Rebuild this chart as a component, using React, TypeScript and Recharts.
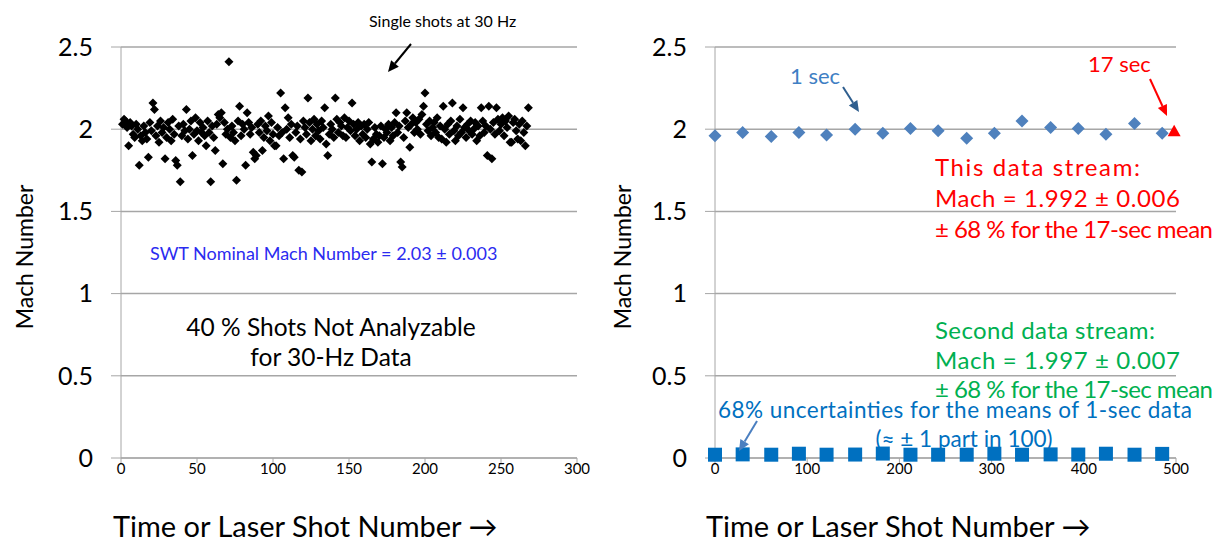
import React from 'react';
import {
  ScatterChart,
  Scatter,
  XAxis,
  YAxis,
  CartesianGrid,
} from 'recharts';

// Left panel: single shots at 30 Hz (Mach number per shot)
const singleShots = [
  2.03, 2.06, 2.05, 2.01, 1.9, 2.04, 2.02, 1.97, 1.95, 2.03,
  2.0, 1.78, 1.96, 1.93, 2.02, 1.98, 1.94, 1.83, 2.04, 1.99,
  2.16, 2.12, 1.96, 2.02, 1.92, 2.05, 1.98, 2.01, 1.82, 1.95,
  2.04, 2.0, 1.93, 2.06, 1.97, 1.81, 1.78, 2.02, 1.68, 1.96,
  2.03, 1.99, 2.12, 1.94, 2.0, 2.05, 1.84, 1.97, 2.07, 1.99,
  1.93, 2.04, 1.98, 2.01, 1.96, 1.9, 2.05, 1.98, 1.68, 2.02,
  1.95, 1.87, 2.03, 2.09, 2.07, 2.1, 1.79, 2.04, 1.97, 2.0,
  2.41, 1.95, 2.02, 1.98, 1.93, 1.69, 2.05, 2.14, 1.96, 2.03,
  2.0, 1.78, 2.1, 2.04, 1.97, 2.01, 1.86, 1.82, 1.84, 2.03,
  1.98, 2.05, 1.87, 1.95, 2.02, 1.99, 2.08, 1.93, 2.04, 1.97,
  1.9, 1.9, 2.01, 1.96, 2.22, 1.98, 1.82, 2.13, 2.0, 2.07,
  1.95, 2.03, 1.84, 1.83, 1.98, 2.02, 1.75, 1.94, 1.74, 2.05,
  2.01, 1.97, 2.19, 2.04, 1.93, 2.0, 2.06, 1.96, 2.03, 1.99,
  1.94, 2.05, 2.01, 2.13, 1.91, 1.84, 1.97, 2.03, 2.0, 1.95,
  2.19, 2.06, 1.98, 2.04, 2.02, 1.96, 2.07, 1.95, 2.01, 2.05,
  1.99, 2.16, 2.03, 1.96, 2.0, 2.04, 1.93, 2.02, 1.97, 2.03,
  1.95, 2.0, 2.04, 1.91, 1.8, 1.94, 2.01, 1.97, 1.92, 1.96,
  2.02, 1.79, 1.95, 2.0, 1.98, 2.03, 1.93, 2.01, 1.96, 2.04,
  2.1, 1.98, 2.02, 1.8, 1.77, 1.95, 2.05, 2.1, 2.01, 1.89,
  2.03, 2.07, 1.98, 2.04, 2.0, 2.06, 1.97, 2.09, 2.14, 2.22,
  2.03, 1.99, 2.05, 1.96, 2.01, 2.04, 1.98, 2.07, 1.95, 2.02,
  1.94, 2.14, 2.0, 1.92, 2.03, 1.97, 2.05, 2.16, 1.99, 1.93,
  2.02, 1.96, 2.06, 1.98, 2.13, 2.01, 1.95, 2.03, 1.99, 2.05,
  1.97, 2.0, 2.04, 1.93, 2.02, 1.96, 2.13, 2.05, 1.98, 2.02,
  1.84, 2.14, 2.0, 1.82, 2.04, 1.97, 2.13, 2.06, 1.99, 2.03,
  2.07, 1.96, 2.05, 2.01, 2.08, 1.92, 1.92, 2.04, 2.06, 1.99,
  1.94, 2.03, 1.93, 2.05, 1.98, 1.9, 2.02, 2.13,
];

// Right panel: 1-sec means, their 68% uncertainties, and the 17-sec mean
const secondShots = [0, 30, 61, 91, 121, 152, 182, 212, 242, 273, 303, 333, 364, 394, 424, 455, 485];
const secondMeans = [
  1.96, 1.98, 1.955, 1.98, 1.965, 2.0, 1.975, 2.005, 1.99, 1.945, 1.975, 2.05, 2.01, 2.005, 1.97, 2.035, 1.975,
];
const secondUnc = [
  0.02, 0.022, 0.02, 0.026, 0.02, 0.021, 0.027, 0.02, 0.02, 0.02, 0.026, 0.02, 0.022, 0.021, 0.026, 0.02, 0.025,
];
const streamShot = [498];
const streamMean = [1.992];

const yTicks = [0, 0.5, 1, 1.5, 2, 2.5];
const leftXTicks = [0, 50, 100, 150, 200, 250, 300];
const rightXTicks = [0, 100, 200, 300, 400, 500];

const FONT = 'Lato, "Open Sans", sans-serif';
const GRID = '#a6a6a6';

const shotData = singleShots.map((y, i) => ({ x: i + 1, y }));
const meanData = secondShots.map((x, i) => ({ x, y: secondMeans[i] }));
const uncData = secondShots.map((x, i) => ({ x, y: secondUnc[i] }));
const streamData = streamShot.map((x, i) => ({ x, y: streamMean[i] }));

const diamond = (r: number, fill: string) => (props: any) => {
  const { cx, cy } = props;
  return (
    <polygon
      points={`${cx},${cy - r} ${cx + r},${cy} ${cx},${cy + r} ${cx - r},${cy}`}
      fill={fill}
    />
  );
};

const square = (s: number, fill: string) => (props: any) => {
  const { cx, cy } = props;
  return <rect x={cx - s / 2} y={cy - s / 2} width={s} height={s} fill={fill} />;
};

const triangle = (s: number, fill: string) => (props: any) => {
  const { cx, cy } = props;
  const h = s * 0.9;
  return (
    <polygon
      points={`${cx},${cy - h / 2} ${cx + s / 2},${cy + h / 2} ${cx - s / 2},${cy + h / 2}`}
      fill={fill}
    />
  );
};

const Arrow = ({ x1, y1, x2, y2, color, w = 2 }: any) => {
  const a = Math.atan2(y2 - y1, x2 - x1);
  const len = 11;
  const half = 5;
  const bx = x2 - len * Math.cos(a);
  const by = y2 - len * Math.sin(a);
  const px = -Math.sin(a) * half;
  const py = Math.cos(a) * half;
  return (
    <g>
      <line x1={x1} y1={y1} x2={bx} y2={by} stroke={color} strokeWidth={w} />
      <polygon
        points={`${x2},${y2} ${bx + px},${by + py} ${bx - px},${by - py}`}
        fill={color}
      />
    </g>
  );
};

const axisProps = {
  stroke: GRID,
  tick: { fill: '#000', fontFamily: FONT },
};

const LeftChart = () => (
  <ScatterChart width={600} height={544} margin={{ top: 47, right: 23, left: 0, bottom: 0 }}>
    <CartesianGrid vertical={false} stroke={GRID} strokeWidth={1.5} />
    <XAxis
      type="number"
      dataKey="x"
      domain={[0, 300]}
      ticks={leftXTicks}
      height={86}
      tickSize={5}
      tickMargin={0}
      {...axisProps}
      tick={{ ...axisProps.tick, fontSize: 15 }}
    />
    <YAxis
      type="number"
      dataKey="y"
      domain={[0, 2.5]}
      ticks={yTicks}
      width={121}
      tickSize={10}
      tickMargin={18}
      {...axisProps}
      tick={{ ...axisProps.tick, fontSize: 25 }}
    />
    <Scatter data={shotData} shape={diamond(4.5, '#000')} isAnimationActive={false} />
  </ScatterChart>
);

const RightChart = () => (
  <ScatterChart width={620} height={544} margin={{ top: 47, right: 44, left: 0, bottom: 0 }}>
    <CartesianGrid vertical={false} stroke={GRID} strokeWidth={1.5} />
    <XAxis
      type="number"
      dataKey="x"
      domain={[0, 500]}
      ticks={rightXTicks}
      height={86}
      tickSize={5}
      tickMargin={0}
      {...axisProps}
      tick={{ ...axisProps.tick, fontSize: 15 }}
    />
    <YAxis
      type="number"
      dataKey="y"
      domain={[0, 2.5]}
      ticks={yTicks}
      width={115}
      tickSize={10}
      tickMargin={18}
      {...axisProps}
      tick={{ ...axisProps.tick, fontSize: 25 }}
    />
    <Scatter data={meanData} shape={diamond(6.5, '#4f81bd')} isAnimationActive={false} />
    <Scatter data={uncData} shape={square(14, '#0070c0')} isAnimationActive={false} />
    <Scatter data={streamData} shape={triangle(13, '#ff0000')} isAnimationActive={false} />
  </ScatterChart>
);

const T = ({ x, y, size, color = '#000', anchor = 'start', len, children }: any) => (
  <text
    x={x}
    y={y}
    fontSize={size}
    fill={color}
    textAnchor={anchor}
    dominantBaseline="central"
    fontFamily={FONT}
    textLength={len}
    lengthAdjust={len ? 'spacing' : undefined}
  >
    {children}
  </text>
);

export default function App() {
  return (
    <div style={{ position: 'absolute', left: 0, top: 0, width: 1220, height: 544, background: '#fff' }}>
      <div style={{ position: 'absolute', left: 0, top: 0 }}>
        <LeftChart />
      </div>
      <div style={{ position: 'absolute', left: 600, top: 0 }}>
        <RightChart />
      </div>
      <svg
        width={1220}
        height={544}
        style={{ position: 'absolute', left: 0, top: 0, pointerEvents: 'none' }}
      >
        {/* axis titles */}
        <text
          x={24}
          y={257}
          fontSize={23}
          fontFamily={FONT}
          textAnchor="middle"
          dominantBaseline="central"
          transform="rotate(-90 24 257)"
        >
          Mach Number
        </text>
        <text
          x={622}
          y={257}
          fontSize={23}
          fontFamily={FONT}
          textAnchor="middle"
          dominantBaseline="central"
          transform="rotate(-90 622 257)"
        >
          Mach Number
        </text>
        <T x={113} y={525} size={29}>Time or Laser Shot Number →</T>
        <T x={706} y={525} size={29}>Time or Laser Shot Number →</T>

        {/* left annotations */}
        <T x={369} y={20} size={16}>Single shots at 30 Hz</T>
        <Arrow x1={411} y1={44} x2={388} y2={72} color="#000" />
        <T x={150} y={253} size={18} color="#2b2bf0">SWT Nominal Mach Number = 2.03 ± 0.003</T>
        <T x={331} y={326} size={24.5} anchor="middle">40 % Shots Not Analyzable</T>
        <T x={331} y={356} size={24.5} anchor="middle">for 30-Hz Data</T>

        {/* right annotations */}
        <T x={790} y={75} size={22} color="#3f7fc4">1 sec</T>
        <Arrow x1={843} y1={87} x2={859} y2={112} color="#2f5e8e" />
        <T x={1088} y={63} size={22} color="#ff0000">17 sec</T>
        <Arrow x1={1150} y1={79} x2={1167} y2={116} color="#ff0000" />
        <T x={935} y={166} size={24} color="#ff0000" len={205}>This data stream:</T>
        <T x={935} y={197} size={24} color="#ff0000" len={245}>Mach = 1.992 ± 0.006</T>
        <T x={935} y={228} size={24} color="#ff0000" len={278}>± 68 % for the 17-sec mean</T>
        <T x={935} y={329} size={24} color="#00b050" len={220}>Second data stream:</T>
        <T x={935} y={359} size={24} color="#00b050" len={245}>Mach = 1.997 ± 0.007</T>
        <T x={935} y={388} size={24} color="#00b050" len={278}>± 68 % for the 17-sec mean</T>
        <T x={955} y={409} size={22.5} anchor="middle" color="#0070c0" len={474}>68% uncertainties for the means of 1-sec data</T>
        <T x={964} y={438} size={22.5} anchor="middle" color="#0070c0">(≈ ± 1 part in 100)</T>
        <Arrow x1={757} y1={421} x2={739} y2={451} color="#4a7fc0" />
      </svg>
    </div>
  );
}
